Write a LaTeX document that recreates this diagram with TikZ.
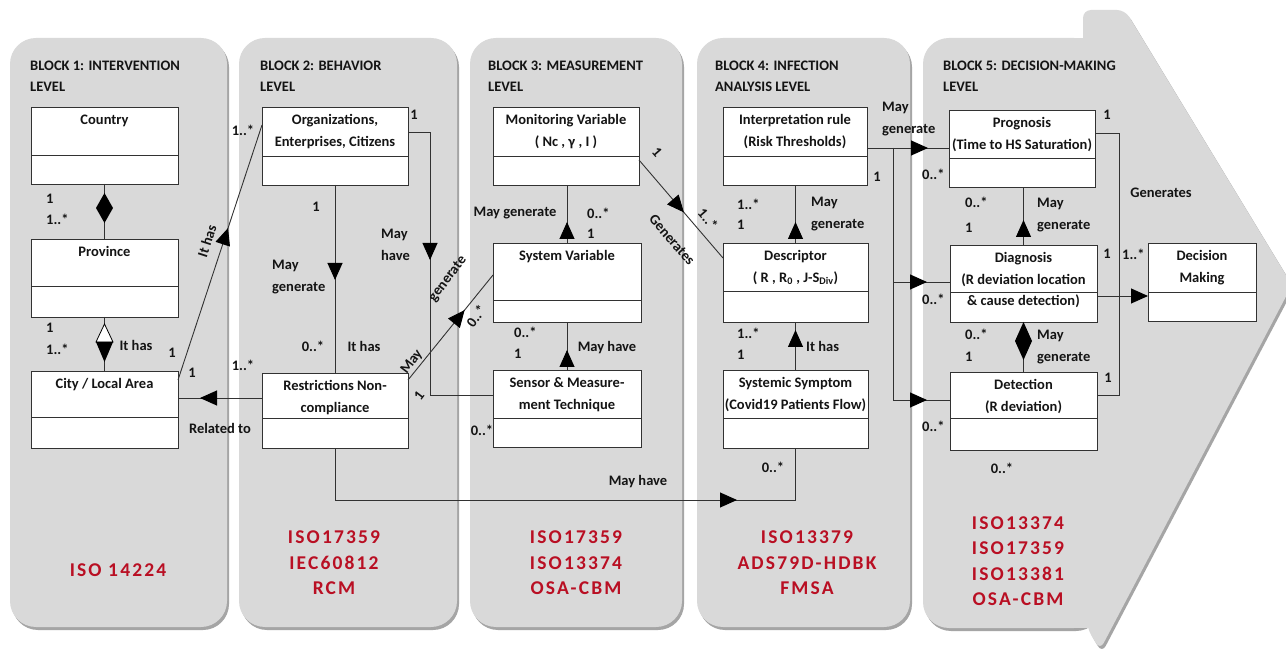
\documentclass[tikz,border=0pt]{standalone}
\usepackage{fontspec}
\setmainfont{Carlito}
\newfontfamily\isofam{Carlito}[LetterSpace=11]
\usetikzlibrary{arrows.meta,decorations.markings,calc}
\definecolor{panelc}{RGB}{217,217,217}
\definecolor{shadowc}{RGB}{165,165,165}
\definecolor{isored}{RGB}{185,15,35}
\definecolor{linec}{RGB}{50,50,50}
\definecolor{txtc}{RGB}{20,20,20}
\newcommand\lblfont{\bfseries\fontsize{14.5}{21.5}\selectfont}
\newcommand\isostyle{\isofam\bfseries\fontsize{19.5}{25.5}\selectfont}
\tikzset{
  clsbox/.style={draw=linec, fill=white, line width=0.9pt, inner sep=0pt, outer sep=0pt, rectangle},
  clstxt/.style={font=\lblfont, text=txtc, align=center, inner sep=0pt},
  conn/.style={draw=linec, line width=0.9pt},
  lbl/.style={font=\lblfont, text=txtc, inner sep=0pt},
  ttl/.style={font=\lblfont, text=txtc, align=left, inner sep=0pt, anchor=north west},
  iso/.style={font=\isostyle, text=isored, align=center, inner sep=0pt},
  umltri/.tip={Triangle[length=17pt,width=15pt,color=black]},
  midarr/.style={postaction={decorate,decoration={markings,mark=at position #1 with {\arrow{Triangle[length=17pt,width=15pt,color=black]}}}}},
}
\newcommand{\umlcls}[7]{%
  \node[clsbox, minimum width=#4pt, minimum height=#5pt, anchor=north west] (#1) at (#2,#3) {};
  \draw[conn] ([yshift=-#6pt]#1.north west) -- ([yshift=-#6pt]#1.north east);
  \node[clstxt, anchor=north] (#1-t) at ([yshift=-2.7pt]#1.north) {\strut #7};
}
\begin{document}
\begin{tikzpicture}[x=1pt,y=-1pt]
\useasboundingbox (0,0) rectangle (1286,652);
\fill[white] (0,0) rectangle (1286,652);
% ---------- panel shadows ----------
\begin{scope}[shift={(2,3)}]
  \fill[shadowc, rounded corners=26pt] (10,38) rectangle (227,627);
  \fill[shadowc, rounded corners=26pt] (239,38) rectangle (457,627);
  \fill[shadowc, rounded corners=26pt] (470,38) rectangle (682,627);
  \fill[shadowc, rounded corners=26pt] (697,38) rectangle (910,627);
  \fill[shadowc, rounded corners=26pt] (923,38) rectangle (1100,628);
  \fill[shadowc, rounded corners=8pt] (1083,60) -- (1083,10) -- (1125,10) -- (1292,285) -- (1100,650) -- (1087,628) -- cycle;
\end{scope}
% ---------- panels ----------
\fill[panelc, rounded corners=26pt] (10,38) rectangle (227,627);
\fill[panelc, rounded corners=26pt] (239,38) rectangle (457,627);
\fill[panelc, rounded corners=26pt] (470,38) rectangle (682,627);
\fill[panelc, rounded corners=26pt] (697,38) rectangle (910,627);
\fill[panelc, rounded corners=26pt] (923,38) rectangle (1100,628);
\fill[panelc] (1050,38) rectangle (1095,628);
\fill[panelc, rounded corners=8pt] (1083,60) -- (1083,10) -- (1125,10) -- (1292,285) -- (1100,650) -- (1087,628) -- cycle;
% ---------- titles ----------
\node[ttl] (t1) at (30,55) {\strut BLOCK 1: INTERVENTION\\LEVEL};
\node[ttl] (t2) at (260,55) {\strut BLOCK 2: BEHAVIOR\\LEVEL};
\node[ttl] (t3) at (488,55) {\strut BLOCK 3: MEASUREMENT\\LEVEL};
\node[ttl] (t4) at (715,55) {\strut BLOCK 4: INFECTION\\ANALYSIS LEVEL};
\node[ttl] (t5) at (943,55) {\strut BLOCK 5: DECISION-MAKING\\LEVEL};
% ---------- classes ----------
\umlcls{country}{31}{107}{147}{77}{48}{Country}
\umlcls{province}{31}{239}{147}{78}{47}{Province}
\umlcls{city}{31}{371}{147}{77}{46}{City / Local Area}
\umlcls{org}{262}{107}{146}{78}{49}{Organizations,\\Enterprises, Citizens}
\umlcls{restr}{262}{373}{146}{75}{45}{Restrictions Non-\\compliance}
\umlcls{monvar}{493}{107}{146}{78}{49}{Monitoring Variable\\( Nc , γ , I )}
\umlcls{sysvar}{493}{243}{148}{79}{57}{System Variable}
\umlcls{sensor}{493}{370}{148}{77}{48}{Sensor \& Measure-\\ment Technique}
\umlcls{interp}{723}{107}{144}{78}{49}{Interpretation rule\\(Risk Thresholds)}
\umlcls{descr}{723}{243}{145}{79}{48}{Descriptor\\( R , R\textsubscript{0} , J-S\textsubscript{Div})}
\umlcls{symptom}{723}{370}{145}{78}{48}{Systemic Symptom\\(Covid19 Patients Flow)}
\umlcls{progn}{949}{110}{146}{77}{48}{Prognosis\\(Time to HS Saturation)}
\umlcls{diag}{950}{245}{147}{77}{47}{Diagnosis\\(R deviation location\\\& cause detection)}
\umlcls{detect}{950}{372}{147}{78}{46}{Detection\\(R deviation)}
\umlcls{decision}{1148}{243}{108}{78}{49}{Decision\\Making}
% ---------- connectors ----------
\draw[conn] (country.south) -- (province.north);
\fill[black] (104.5,193) -- (113,208) -- (104.5,223) -- (96,208) -- cycle;
\draw[conn] (province.south) -- (city.north);
\filldraw[fill=white, draw=black, line width=0.8pt] (104.5,324) -- (113,342) -- (96,342) -- cycle;
\fill[black] (96,342) -- (113,342) -- (104.5,362) -- cycle;
\draw[conn, midarr=160pt] ([yshift=-9pt]city.north east) -- ([yshift=-18pt]org.north west);
\draw[conn, midarr=62pt] ([yshift=-25pt]restr.north west) -- ([yshift=-27pt]city.north east);
\draw[conn, midarr=95pt] (org.south) -- (restr.north);
\draw[conn, midarr=150pt] ([yshift=-25pt]org.north east) -- ++(22,0) |- ([yshift=-25pt]sensor.north west);
\draw[conn, midarr=90pt] ([yshift=-7pt]restr.north east) -- ([yshift=-32pt]sysvar.north west);
\draw[conn, midarr=21pt] (sysvar.north) -- (sysvar.north |- monvar.south);
\draw[conn, midarr=20pt] (sensor.north) -- (sensor.north |- sysvar.south);
\draw[conn, midarr=69pt] ([yshift=-53pt]monvar.north east) -- ([yshift=-15pt]descr.north west);
\draw[conn, midarr=21pt] (descr.north) -- (descr.north |- interp.south);
\draw[conn, midarr=40pt] (symptom.north) -- (symptom.north |- descr.south);
\coordinate (ip) at ([yshift=-41pt]interp.north east);
\coordinate (br) at ([xshift=26pt]ip);
\draw[conn, midarr=61pt] (ip) -- (ip -| progn.west);
\draw[conn, midarr=168pt] (br) |- ([yshift=-37pt]diag.north west);
\draw[conn, midarr=286pt] (br) |- ([yshift=-28pt]detect.north west);
\draw[conn, midarr=25pt] (diag.north) -- (diag.north |- progn.south);
\draw[conn] (detect.north) -- (diag.south);
\fill[black] (1023.5,322) -- (1032,341) -- (1023.5,360) -- (1015,341) -- cycle;
\draw[conn] ([yshift=-23pt]progn.north east) -- ++(24,0) |- ([yshift=-23pt]detect.north east);
\draw[conn, -{umltri}] ([yshift=-51pt]diag.north east) -- ([yshift=-51pt]diag.north east -| decision.west);
\draw[conn, midarr=454pt] (restr.south) -- ++(0,52) -| (symptom.south);
% ---------- labels block 1 ----------
\node[lbl, anchor=west] (m1) at (46,199) {1};
\node[lbl, anchor=west] (m2) at (46,219) {1..*};
\node[lbl, anchor=west] (m3) at (46,328) {1};
\node[lbl, anchor=west] (m4) at (46,349) {1..*};
\node[lbl] (l1) at (136,345) {It has};
\node[lbl] (m5) at (172,353) {1};
\node[lbl] (m6) at (192,373) {1};
\node[lbl, rotate=72] (l2) at (207,241) {It has};
\node[lbl] (l3) at (220,428) {Related to};
% ---------- labels block 2 ----------
\node[lbl] (m7) at (243,130) {1..*};
\node[lbl] (m8) at (243,365) {1..*};
\node[lbl] (m9) at (414,115) {1};
\node[lbl] (m10) at (316,207) {1};
\node[lbl, align=left, anchor=west] (l4) at (272,277) {May\\generate};
\node[lbl, align=left, anchor=west] (l5) at (381,245) {May\\have};
\node[lbl] (m11) at (313,346) {0..*};
\node[lbl] (l6) at (364,346) {It has};
\node[lbl, rotate=53] (l7) at (412,362) {May};
\node[lbl, rotate=53] (l8) at (448,279) {generate};
\node[lbl, rotate=53] (m12) at (419,396) {1};
\node[lbl, rotate=53] (m13) at (476,316) {0..*};
% ---------- labels block 3 ----------
\node[lbl] (l9) at (515,213) {May generate};
\node[lbl, anchor=west] (m14) at (587,213) {0..*};
\node[lbl, anchor=west] (m15) at (587,234) {1};
\node[lbl, anchor=west] (m16) at (514,332) {0..*};
\node[lbl, anchor=west] (m17) at (514,354) {1};
\node[lbl] (l10) at (607,348) {May have};
\node[lbl] (m18) at (482,430) {0..*};
\node[lbl, rotate=-49] (m19) at (657,152) {1};
\node[lbl, rotate=-49] (l11) at (672,240) {Generates};
\node[lbl, rotate=-49] (m20) at (708,219) {1..*};
% ---------- labels block 4 ----------
\node[lbl, anchor=west] (m21) at (737,204) {1..*};
\node[lbl, anchor=west] (m22) at (737,225) {1};
\node[lbl, align=left, anchor=west] (l12) at (811,214) {May\\generate};
\node[lbl, anchor=west] (m23) at (737,333) {1..*};
\node[lbl, anchor=west] (m24) at (737,355) {1};
\node[lbl, anchor=west] (l13) at (806,346) {It has};
\node[lbl] (m25) at (877,177) {1};
\node[lbl, align=left, anchor=west] (l14) at (882,119) {May\\generate};
\node[lbl] (m26) at (773,467) {0..*};
\node[lbl] (l15) at (638,482) {May have};
% ---------- labels block 5 ----------
\node[lbl, anchor=west] (m27) at (922,174) {0..*};
\node[lbl, anchor=west] (m28) at (965,202) {0..*};
\node[lbl, anchor=west] (m29) at (965,228) {1};
\node[lbl, align=left, anchor=west] (l16) at (1037,215) {May\\generate};
\node[lbl, anchor=west] (m30) at (922,299) {0..*};
\node[lbl, anchor=west] (m31) at (965,334) {0..*};
\node[lbl, anchor=west] (m32) at (965,357) {1};
\node[lbl, align=left, anchor=west] (l17) at (1037,347) {May\\generate};
\node[lbl, anchor=west] (m33) at (922,426) {0..*};
\node[lbl] (m34) at (1107,115) {1};
\node[lbl] (l18) at (1161,193) {Generates};
\node[lbl] (m35) at (1107,254) {1};
\node[lbl, anchor=west] (m36) at (1122,254) {1..*};
\node[lbl] (m37) at (1108,378) {1};
\node[lbl] (m38) at (1002,468) {0..*};
% ---------- standards ----------
\node[iso] (iso1) at (118,570) {ISO 14224};
\node[iso] (iso2) at (334,563) {ISO17359\\IEC60812\\RCM};
\node[iso] (iso3) at (576,563) {ISO17359\\ISO13374\\OSA-CBM};
\node[iso] (iso4) at (807,563) {ISO13379\\ADS79D-HDBK\\FMSA};
\node[iso] (iso5) at (1018,561) {ISO13374\\ISO17359\\ISO13381\\OSA-CBM};
\end{tikzpicture}
\end{document}
